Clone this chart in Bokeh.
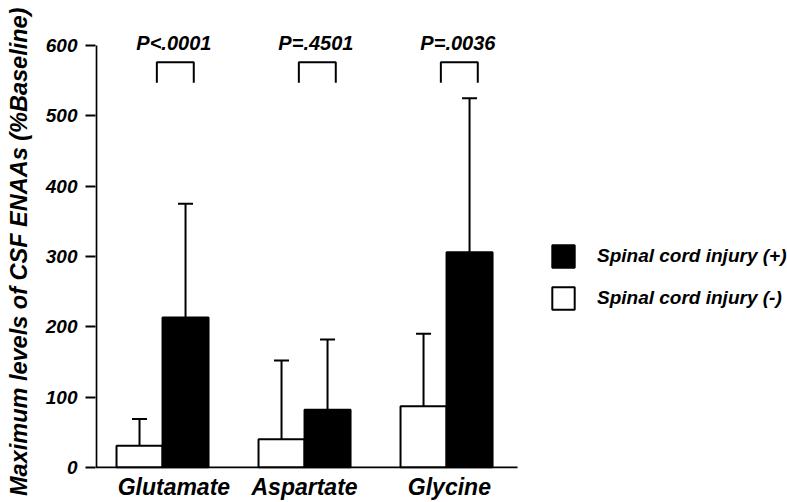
from bokeh.plotting import figure
from bokeh.models import (Range1d, FixedTicker, ColumnDataSource, Whisker, TeeHead,
                          Legend, LegendItem)
from bokeh.core.properties import value
from bokeh.embed import file_html
from bokeh.resources import INLINE

# ---- data ----
amino_acids = ["Glutamate", "Aspartate", "Glycine"]
sci_neg_mean = [31, 40, 87]        # Spinal cord injury (-)
sci_neg_upper = [69, 152, 190]     # mean + SD
sci_pos_mean = [213, 82, 306]      # Spinal cord injury (+)
sci_pos_upper = [375, 182, 525]    # mean + SD
p_values = ["P<.0001", "P=.4501", "P=.0036"]
y_ticks = [0, 100, 200, 300, 400, 500, 600]
y_axis_max = 600

# ---- layout constants ----
FONT = "Liberation Sans"
half = 0.162
bar_w = 0.324
label_shift = [0.08, 0.0, 0.02]
bracket_lo, bracket_hi = 547, 576
p_text_y = 604
x_start, x_axis_end, x_end = -0.472, 2.5, 4.401

group = list(range(len(amino_acids)))
neg_x = [g - half for g in group]
pos_x = [g + half for g in group]

neg_src = ColumnDataSource(dict(x=neg_x, top=sci_neg_mean, upper=sci_neg_upper))
pos_src = ColumnDataSource(dict(x=pos_x, top=sci_pos_mean, upper=sci_pos_upper))

p = figure(width=787, height=502, x_range=Range1d(x_start, x_end), y_range=Range1d(-1.5, 624),
           output_backend="svg", toolbar_location=None,
           min_border_left=95, min_border_right=0, min_border_top=28, min_border_bottom=34)
p.outline_line_color = None
p.grid.grid_line_color = None
p.background_fill_color = "white"
p.border_fill_color = "white"

neg_r = p.vbar(x="x", top="top", bottom=0, width=bar_w, source=neg_src,
               fill_color="white", line_color="black", line_width=2)
pos_r = p.vbar(x="x", top="top", bottom=0, width=bar_w, source=pos_src,
               fill_color="black", line_color="black", line_width=2)

for src in (neg_src, pos_src):
    w = Whisker(source=src, base="x", lower="top", upper="upper", dimension="height",
                line_color="black", line_width=2,
                upper_head=TeeHead(size=15, line_width=2, line_color="black"),
                lower_head=None, level="underlay")
    p.add_layout(w)

# axis lines drawn as glyphs (y only up to 600, x only under the bars)
p.segment(x0=[x_start + 0.006], y0=[0], x1=[x_start + 0.006], y1=[y_axis_max],
          line_color="black", line_width=2)
p.segment(x0=[x_start], y0=[0], x1=[x_axis_end], y1=[0], line_color="black", line_width=2)

# significance brackets and p-values
bx0 = [g - 0.04 for g in group]
bx1 = [g + 0.22 for g in group]
p.multi_line(xs=[[a, a, b, b] for a, b in zip(bx0, bx1)],
             ys=[[bracket_lo, bracket_hi, bracket_hi, bracket_lo] for _ in group],
             line_color="black", line_width=2)
p.text(x=[g + 0.08 for g in group], y=[p_text_y] * len(group), text=p_values,
       text_font=value(FONT), text_font_size="20px", text_font_style="bold italic",
       text_align="center", text_baseline="middle", text_color="black")

# axes
xa = p.xaxis[0]
tick_pos = [g + s for g, s in zip(group, label_shift)]
xa.ticker = FixedTicker(ticks=tick_pos)
xa.major_label_overrides = {t: n for t, n in zip(tick_pos, amino_acids)}
xa.major_tick_line_color = None
xa.major_tick_out = 0
xa.minor_tick_line_color = None
xa.axis_line_color = None
xa.major_label_text_font = FONT
xa.major_label_text_font_size = "23px"
xa.major_label_text_font_style = "bold italic"
xa.major_label_text_color = "black"
xa.major_label_standoff = 5

ya = p.yaxis[0]
ya.ticker = FixedTicker(ticks=y_ticks)
ya.axis_line_color = None
ya.major_tick_line_width = 2
ya.major_tick_line_color = "black"
ya.major_tick_out = 10
ya.major_tick_in = 0
ya.minor_tick_line_color = None
ya.major_label_text_font = FONT
ya.major_label_text_font_size = "19px"
ya.major_label_text_font_style = "bold italic"
ya.major_label_text_color = "black"
ya.major_label_standoff = 8
ya.axis_label = "Maximum levels of  CSF ENAAs (%Baseline)"
ya.axis_label_text_font = FONT
ya.axis_label_text_font_size = "23.5px"
ya.axis_label_text_font_style = "bold italic"
ya.axis_label_text_color = "black"
ya.axis_label_standoff = 11

legend = Legend(items=[LegendItem(label="Spinal cord injury (+)", renderers=[pos_r]),
                       LegendItem(label="Spinal cord injury (-)", renderers=[neg_r])],
                location=(454, 156), glyph_width=28, glyph_height=28, label_standoff=20,
                spacing=14, padding=0, margin=0, border_line_color=None,
                background_fill_alpha=0,
                label_text_font=FONT, label_text_font_size="19px",
                label_text_font_style="bold italic", label_text_color="black",
                label_height=28)
p.add_layout(legend, "center")

open("out.html", "w").write(file_html(p, INLINE))
